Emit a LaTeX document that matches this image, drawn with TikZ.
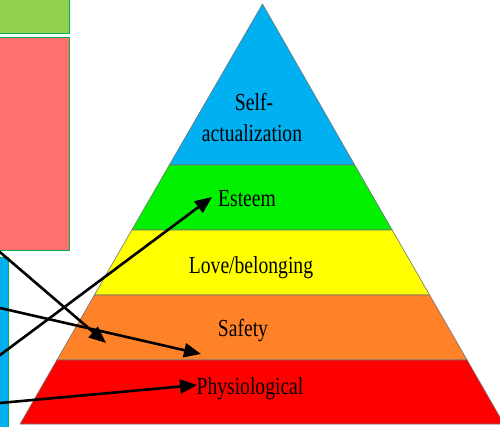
\documentclass[tikz,border=0pt]{standalone}
\usepackage{fontspec}
\setmainfont{Liberation Serif}[FakeStretch=0.8]
\usetikzlibrary{arrows.meta}
\definecolor{tierblue}{HTML}{00B0F0}
\definecolor{tiergreen}{HTML}{00F000}
\definecolor{tieryellow}{HTML}{FFFF00}
\definecolor{tierorange}{HTML}{FF8228}
\definecolor{tierred}{HTML}{FF0000}
\definecolor{boxgreen}{HTML}{92D050}
\definecolor{boxred}{HTML}{FF6F6F}
\definecolor{boxblue}{HTML}{00B0F0}
\definecolor{boxedge}{HTML}{00B050}
\begin{document}
\begin{tikzpicture}[x=1pt,y=-1pt,
  tier/.style={draw=black!55, line width=0.6pt, line join=miter},
  level/.style={font=\fontsize{24.5}{28}\selectfont, inner sep=0pt, anchor=base, align=center},
  pointer/.style={draw=black, line width=2.6pt, -{Triangle[length=17pt,width=14pt]}},
  sidebox/.style={draw=boxedge, line width=0.9pt}]
\useasboundingbox (0,0) rectangle (500,426);
\clip (0,0) rectangle (500,426);

% side panels
\draw[sidebox, fill=boxgreen] (-2,-2) rectangle (69,33);
\draw[sidebox, fill=boxred] (-2,37) rectangle (69,250);
\draw[sidebox, fill=boxblue] (-2,257) rectangle (8,430);

% pyramid tiers, top to bottom
\draw[tier, fill=tierblue]   (262.5,4) -- (354.7,165) -- (169.3,165) -- cycle;
\draw[tier, fill=tiergreen]  (169.3,165) -- (354.7,165) -- (392.2,230) -- (131.8,230) -- cycle;
\draw[tier, fill=tieryellow] (131.8,230) -- (392.2,230) -- (429.6,295) -- (94.4,295) -- cycle;
\draw[tier, fill=tierorange] (94.4,295) -- (429.6,295) -- (467.1,360) -- (56.9,360) -- cycle;
\draw[tier, fill=tierred]    (56.9,360) -- (467.1,360) -- (503.9,424) -- (20.1,424) -- cycle;

% tier labels
\node[level] (self)  at (254,110) {Self-};
\node[level] (actu)  at (252,141) {actualization};
\node[level] (esteem) at (247,206) {Esteem};
\node[level] (love)   at (251,273) {Love/belonging};
\node[level] (safety) at (243,336) {Safety};
\node[level] (phys)   at (250,394) {Physiological};

% pointer ends
\coordinate (s1) at (-20,235);
\coordinate (s2) at (-20,303.4);
\coordinate (s3) at (-20,370);
\coordinate (s4) at (-20,404.8);
\coordinate (t1) at (106,343);
\coordinate (t2) at (201,354);
\coordinate (t3) at (212,197);
\coordinate (t4) at (197,385);

\draw[pointer] (s1) -- (t1);
\draw[pointer] (s2) -- (t2);
\draw[pointer] (s3) -- (t3);
\draw[pointer] (s4) -- (t4);
\end{tikzpicture}
\end{document}
